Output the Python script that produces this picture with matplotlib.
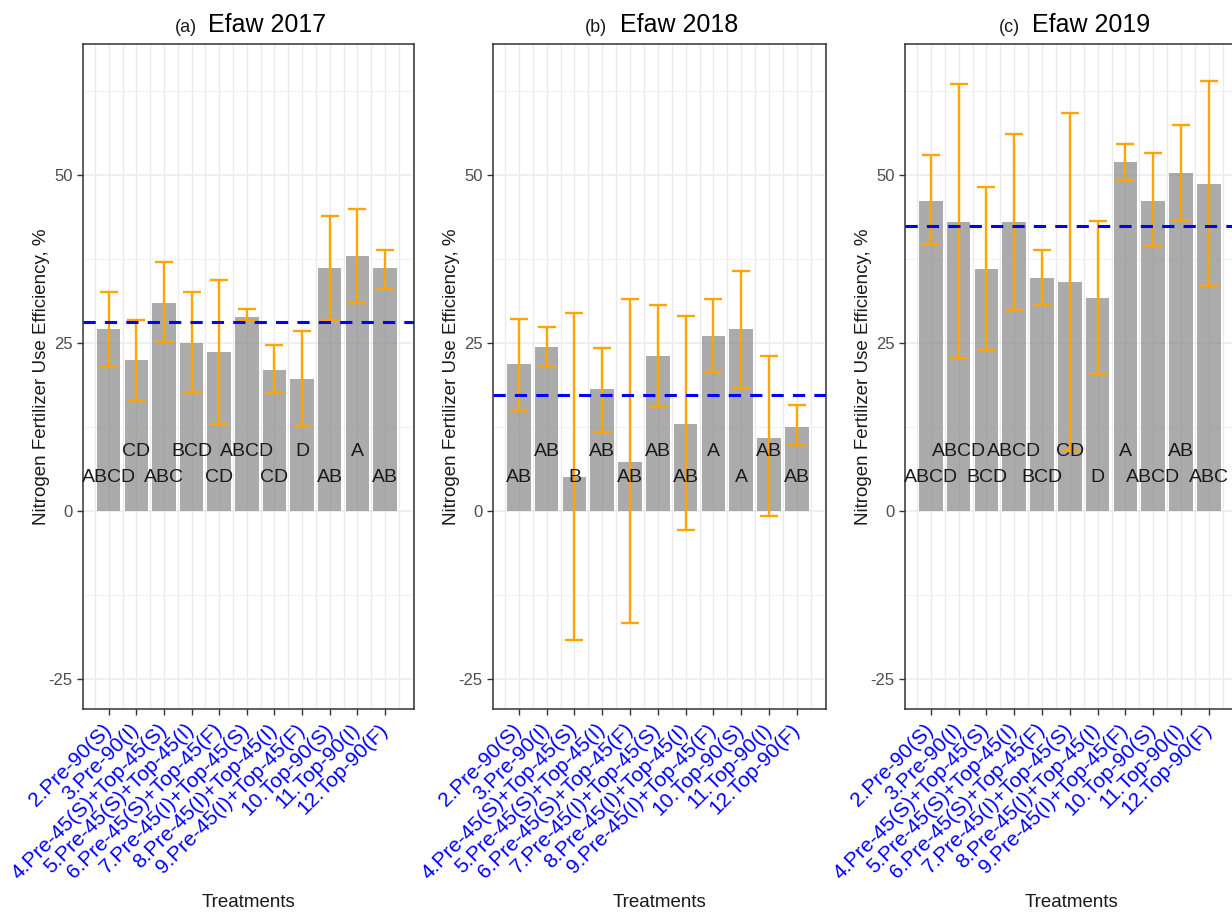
import matplotlib
matplotlib.use('Agg')
import matplotlib.pyplot as plt

plt.rcParams['font.family'] = ['Liberation Sans', 'DejaVu Sans']
plt.rcParams['axes.unicode_minus'] = False

treatments = ["2.Pre-90(S)", "3.Pre-90(I)", "4.Pre-45(S)+Top-45(S)",
              "5.Pre-45(S)+Top-45(I)", "6.Pre-45(S)+Top-45(F)",
              "7.Pre-45(I)+Top-45(S)", "8.Pre-45(I)+Top-45(I)",
              "9.Pre-45(I)+Top-45(F)", "10.Top-90(S)", "11.Top-90(I)",
              "12.Top-90(F)"]

panel_tags = ["(a)", "(b)", "(c)"]
panel_names = ["Efaw 2017", "Efaw 2018", "Efaw 2019"]

# NUE means with lower / upper limits of the error bars
nue_2017 = [27.1, 22.4, 31.0, 25.0, 23.7, 28.9, 21.0, 19.7, 36.1, 38.0, 36.1]
low_2017 = [21.4, 16.3, 25.1, 17.5, 13.0, 28.2, 17.5, 12.6, 28.4, 31.0, 33.1]
high_2017 = [32.6, 28.4, 37.1, 32.6, 34.3, 30.0, 24.7, 26.7, 43.9, 45.0, 38.9]

nue_2018 = [21.8, 24.4, 5.0, 18.1, 7.3, 23.0, 13.0, 26.0, 27.0, 10.9, 12.5]
low_2018 = [14.8, 21.4, -19.2, 11.8, -16.7, 15.5, -2.9, 20.6, 18.3, -0.7, 9.8]
high_2018 = [28.6, 27.3, 29.4, 24.3, 31.6, 30.6, 29.0, 31.6, 35.7, 23.1, 15.7]

nue_2019 = [46.2, 43.0, 36.0, 43.0, 34.6, 34.0, 31.7, 51.9, 46.2, 50.3, 48.7]
low_2019 = [39.8, 22.8, 23.9, 29.9, 30.6, 8.9, 20.4, 49.3, 39.5, 43.3, 33.4]
high_2019 = [53.0, 63.5, 48.2, 56.1, 38.8, 59.2, 43.1, 54.6, 53.2, 57.5, 64.0]

# site-year average (dashed line)
site_means = [28.1, 17.3, 42.4]

letters_2017 = ["ABCD", "CD", "ABC", "BCD", "CD", "ABCD", "CD", "D", "AB", "A", "AB"]
letters_2018 = ["AB", "AB", "B", "AB", "AB", "AB", "AB", "A", "A", "AB", "AB"]
letters_2019 = ["ABCD", "ABCD", "BCD", "ABCD", "BCD", "CD", "D", "A", "ABCD", "AB", "ABC"]

letter_rows = [4.9, 8.8]

panels = [
    (nue_2017, low_2017, high_2017, letters_2017),
    (nue_2018, low_2018, high_2018, letters_2018),
    (nue_2019, low_2019, high_2019, letters_2019),
]

W, H = 1232, 917
fig = plt.figure(figsize=(W / 100, H / 100), dpi=100)

# axes boxes in pixels: left, right (third panel runs off the page)
boxes = [(83, 414), (493, 826), (905, 1238)]
top_px, bottom_px = 44, 709

x = list(range(1, len(treatments) + 1))

for i, (means, lows, highs, letters) in enumerate(panels):
    left, right = boxes[i]
    ax = fig.add_axes([left / W, 1 - bottom_px / H, (right - left) / W,
                       (bottom_px - top_px) / H])
    ax.set_xlim(0.07, 12.05)
    ax.set_ylim(-29.5, 69.5)

    # grid
    for gx in [v * 0.5 for v in range(1, 25)]:
        ax.axvline(gx, color='#EBEBEB', lw=1.0, zorder=0)
    for gy in [-12.5, 12.5, 37.5, 62.5]:
        ax.axhline(gy, color='#F2F2F2', lw=0.8, zorder=0)
    for gy in [-25, 0, 25, 50]:
        ax.axhline(gy, color='#EBEBEB', lw=1.1, zorder=0)

    ax.bar(x, means, width=0.85, color='#7F7F7F', alpha=0.65, zorder=1)

    err_lo = [m - l for m, l in zip(means, lows)]
    err_hi = [h - m for m, h in zip(means, highs)]
    ax.errorbar(x, means, yerr=[err_lo, err_hi], fmt='none', ecolor='#FFA500',
                elinewidth=1.7, capsize=6.5, capthick=1.7, zorder=3)

    ax.axhline(site_means[i], color='#0000FF', lw=2.2, dashes=(4, 3), zorder=4)

    for j, lab in enumerate(letters):
        ax.text(x[j], letter_rows[j % 2], lab, ha='center', va='center',
                fontsize=14, color='#1A1A1A', zorder=5)

    ax.set_yticks([-25, 0, 25, 50])
    ax.set_xticks(x)
    ax.set_xticklabels(treatments, rotation=45, ha='right', va='center',
                       rotation_mode='anchor', color='#0000FF', fontsize=15)
    ax.tick_params(axis='y', labelsize=12, labelcolor='#4D4D4D', color='#333333',
                   length=4, width=1)
    ax.tick_params(axis='x', color='#333333', length=4, width=1, pad=9)
    for sp in ax.spines.values():
        sp.set_color('#333333')
        sp.set_linewidth(1.1)

    ax.set_ylabel("Nitrogen Fertilizer Use Efficiency, %", fontsize=13.5,
                  color='#1A1A1A', labelpad=-1)
    ax.set_xlabel("Treatments", fontsize=13.5, color='#1A1A1A', labelpad=8)

    # title: small tag followed by site-year name
    ax.annotate(panel_tags[i], xy=(0.5, 1), xycoords='axes fraction',
                xytext=(-52, 12), textcoords='offset pixels',
                ha='right', va='baseline', fontsize=13, color='#1A1A1A')
    ax.annotate(panel_names[i], xy=(0.5, 1), xycoords='axes fraction',
                xytext=(-40, 12), textcoords='offset pixels',
                ha='left', va='baseline', fontsize=18, color='black')

fig.savefig('out.png', dpi=100)
